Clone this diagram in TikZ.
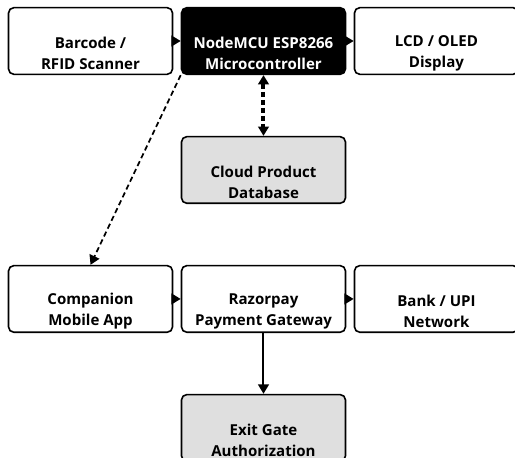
\documentclass[tikz,border=0pt]{standalone}
\usepackage{fontspec}
\setmainfont{Open Sans}
\usepackage{tikz}
\usetikzlibrary{arrows.meta}

% empty first line pushes the text down, as in the drawing
\newcommand{\twoline}[2]{\mbox{}\\[11pt]#1\\#2}

\tikzset{
    unit/.style={rectangle, draw, line width=1.2pt, rounded corners=4pt, minimum width=123pt, minimum height=50pt, inner sep=0pt, align=center, font=\fontsize{11.3}{15.8}\selectfont\bfseries},
    core/.style={unit, fill=black, text=white},
    store/.style={unit, fill=gray!25}
}

\begin{document}
\begin{tikzpicture}[node distance=4.56cm, >={Triangle[length=7pt,width=8pt]}]
    \useasboundingbox (-67.9pt,30.75pt) rectangle (318.4pt,-312.75pt);

    \node (scanner) [unit] {\twoline{Barcode /}{RFID Scanner}};
    \node (mcu) [core, right of=scanner] {\twoline{NodeMCU ESP8266}{Microcontroller}};
    \node (display) [unit, right of=mcu] {\twoline{LCD / OLED}{Display}};

    \draw[->, line width=1.5pt] (scanner) -- (mcu);
    \draw[->, line width=1.5pt] (mcu) -- (display);

    \node (cloud) [store, below of=mcu, yshift=1.16cm] {\twoline{Cloud Product}{Database}};
    \draw[<->, line width=3pt, dash pattern=on 4pt off 2pt] (mcu) -- (cloud);

    \node (razorpay) [unit, below of=cloud, yshift=1.16cm] {\twoline{Razorpay}{Payment Gateway}};
    \node (app) [unit, left of=razorpay] {\twoline{Companion}{Mobile App}};
    \node (bank) [unit, right of=razorpay] {\twoline{Bank / UPI}{Network}};

    \draw[->, line width=1.3pt, dash pattern=on 4pt off 2.5pt] (mcu.south west) -- (app.north);
    \draw[->, line width=1.5pt] (app) -- (razorpay);
    \draw[->, line width=1.5pt] (razorpay) -- (bank);

    \node (exit) [store, below of=razorpay, yshift=1.16cm] {\twoline{Exit Gate}{Authorization}};
    \draw[->, line width=1.5pt] (razorpay) -- (exit);
\end{tikzpicture}
\end{document}
